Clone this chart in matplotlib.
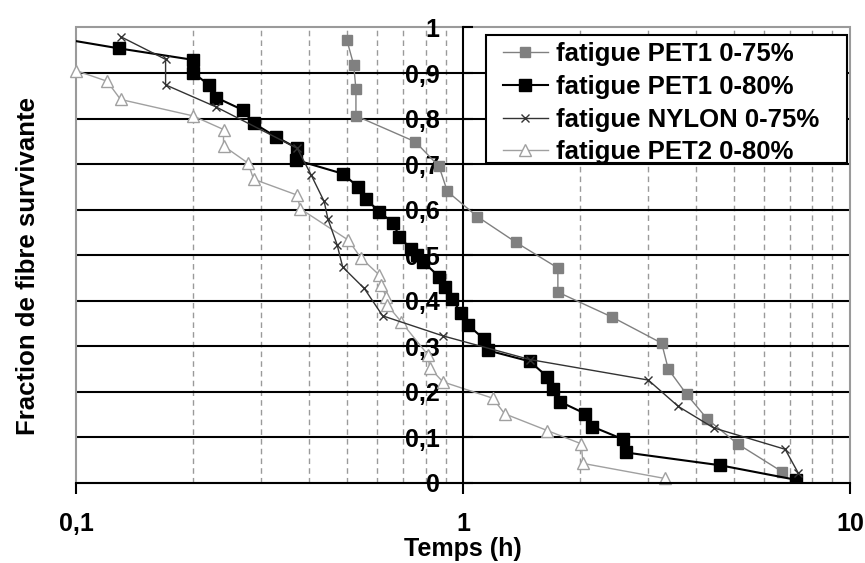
import matplotlib
matplotlib.use("Agg")
import matplotlib.pyplot as plt
from matplotlib.ticker import FixedLocator, NullFormatter
from matplotlib.patches import Rectangle

plt.rcParams['font.family'] = ['Liberation Sans', 'DejaVu Sans']
plt.rcParams['font.weight'] = 'bold'

# ---- data ----
pet1_75_x = [0.500, 0.521, 0.528, 0.528, 0.752, 0.866, 0.910, 1.087, 1.371, 1.757, 1.757,
             2.43, 3.26, 3.39, 3.78, 4.28, 5.12, 6.67]
pet1_75_y = [0.973, 0.918, 0.864, 0.806, 0.749, 0.695, 0.640, 0.585, 0.528, 0.472, 0.419,
             0.364, 0.307, 0.250, 0.195, 0.140, 0.086, 0.025]

pet1_80_x = [0.085, 0.129, 0.200, 0.200, 0.220, 0.230, 0.269, 0.287, 0.328, 0.372, 0.370,
             0.488, 0.535, 0.561, 0.606, 0.658, 0.684, 0.733, 0.760, 0.787, 0.866,
             0.895, 0.937, 0.988, 1.028, 1.132, 1.159, 1.487, 1.651, 1.708, 1.783,
             2.07, 2.153, 2.59, 2.63, 4.61, 7.25]
pet1_80_y = [0.980, 0.954, 0.929, 0.901, 0.874, 0.846, 0.819, 0.790, 0.760, 0.735, 0.709,
             0.679, 0.650, 0.623, 0.596, 0.571, 0.541, 0.513, 0.500, 0.486, 0.453,
             0.431, 0.403, 0.373, 0.347, 0.316, 0.291, 0.267, 0.233, 0.207, 0.178,
             0.152, 0.124, 0.096, 0.067, 0.039, 0.007]

nylon_x = [0.130, 0.170, 0.170, 0.229, 0.372, 0.404, 0.437, 0.447, 0.472, 0.488, 0.555,
           0.619, 0.886, 1.487, 3.01, 3.60, 4.44, 6.80, 7.36]
nylon_y = [0.980, 0.930, 0.874, 0.826, 0.735, 0.677, 0.618, 0.579, 0.523, 0.474, 0.427,
           0.367, 0.323, 0.271, 0.226, 0.168, 0.121, 0.074, 0.021]

pet2_x = [0.100, 0.120, 0.130, 0.200, 0.240, 0.240, 0.278, 0.287, 0.372, 0.379, 0.505,
          0.544, 0.606, 0.613, 0.632, 0.636, 0.691, 0.811, 0.819, 0.886, 1.194, 1.279,
          1.651, 2.02, 2.04, 3.32]
pet2_y = [0.905, 0.882, 0.842, 0.806, 0.776, 0.740, 0.702, 0.667, 0.632, 0.602, 0.533,
          0.494, 0.457, 0.435, 0.409, 0.391, 0.354, 0.281, 0.253, 0.222, 0.186, 0.152,
          0.115, 0.086, 0.043, 0.010]

labels = ['fatigue PET1 0-75%', 'fatigue PET1 0-80%', 'fatigue NYLON 0-75%', 'fatigue PET2 0-80%']
y_ticks = [0, 0.1, 0.2, 0.3, 0.4, 0.5, 0.6, 0.7, 0.8, 0.9, 1.0]
y_ticklabels = ['0', '0,1', '0,2', '0,3', '0,4', '0,5', '0,6', '0,7', '0,8', '0,9', '1']
x_ticks = [0.1, 1, 10]
x_ticklabels = ['0,1', '1', '10']

FS = 18

# ---- figure ----
fig = plt.figure(figsize=(8.65, 5.63), dpi=100)
ax = fig.add_axes([0.0884, 0.1421, 0.8942, 0.8091])
ax.set_xscale('log')
ax.set_xlim(0.1, 10)
ax.set_ylim(0, 1)

# grid
minor = [m * d for d in (0.1, 1) for m in range(2, 10)]
for xv in minor:
    ax.axvline(xv, color='#9a9a9a', lw=1.0, ls=(0, (4, 3)), zorder=0.5)
for yv in y_ticks[1:-1]:
    ax.axhline(yv, color='black', lw=1.5, zorder=0.6)

# border (gray) and axes
for s in ax.spines.values():
    s.set_visible(False)
ax.add_patch(Rectangle((0, 0), 1, 1, transform=ax.transAxes, fill=False,
                       ec='#9a9a9a', lw=1.5, zorder=0.7, clip_on=False))
ax.spines['bottom'].set_visible(True)
ax.spines['bottom'].set_color('black')
ax.spines['bottom'].set_linewidth(1.5)
ax.spines['left'].set_visible(True)
ax.spines['left'].set_position(('data', 1))
ax.spines['left'].set_color('black')
ax.spines['left'].set_linewidth(1.5)

ax.xaxis.set_major_locator(FixedLocator(x_ticks))
ax.set_xticklabels(x_ticklabels)
ax.xaxis.set_minor_locator(FixedLocator(minor))
ax.xaxis.set_minor_formatter(NullFormatter())
ax.tick_params(axis='x', which='major', direction='out', length=8, width=1.5,
               pad=13, labelsize=FS)
ax.tick_params(axis='x', which='minor', length=0)

ax.set_yticks(y_ticks)
ax.set_yticklabels(y_ticklabels)
ax.tick_params(axis='y', which='major', direction='in', length=7, width=1.5,
               pad=17, labelsize=FS)
for t in ax.get_xticklabels() + ax.get_yticklabels():
    t.set_fontweight('bold')

# series
l1, = ax.plot(pet1_75_x, pet1_75_y, color='#808080', lw=1.0, marker='s', ms=7,
              mfc='#808080', mec='#808080', zorder=3)
l2, = ax.plot(pet1_80_x, pet1_80_y, color='black', lw=1.5, marker='s', ms=8.5,
              mfc='black', mec='black', zorder=4)
l3, = ax.plot(nylon_x, nylon_y, color='#333333', lw=1.0, marker='x', ms=6, mew=1.0,
              zorder=5)
l4, = ax.plot(pet2_x, pet2_y, color='#a0a0a0', lw=1.0, marker='^', ms=8,
              mfc='white', mec='#a0a0a0', mew=1.0, zorder=2)
l4.set_clip_on(False)
l4.set_clip_path(Rectangle((0.099, 0), 10, 1, transform=ax.transData))

# legend frame drawn manually, legend content without frame
ax.add_patch(Rectangle((0.5294, 0.7025), 0.9961 - 0.5294, 0.9835 - 0.7025,
                       transform=ax.transAxes, fc='white', ec='black', lw=1.5,
                       zorder=9, clip_on=False))
leg = ax.legend([l1, l2, l3, l4], labels, loc='upper left',
                bbox_to_anchor=(0.5514, 0.968), borderaxespad=0, frameon=False,
                prop={'weight': 'bold', 'size': 18.5},
                handlelength=1.75, handletextpad=0.3, labelspacing=0.34, borderpad=0)
leg.set_zorder(10)

fig.text(0.5355, 1 - 549 / 563, 'Temps (h)', ha='center', va='center',
         fontsize=FS, fontweight='bold')
fig.text(28 / 865, 0.5275, 'Fraction de fibre survivante', ha='center', va='center',
         rotation=90, fontsize=18.5, fontweight='bold')

fig.savefig('out.png', dpi=100)
